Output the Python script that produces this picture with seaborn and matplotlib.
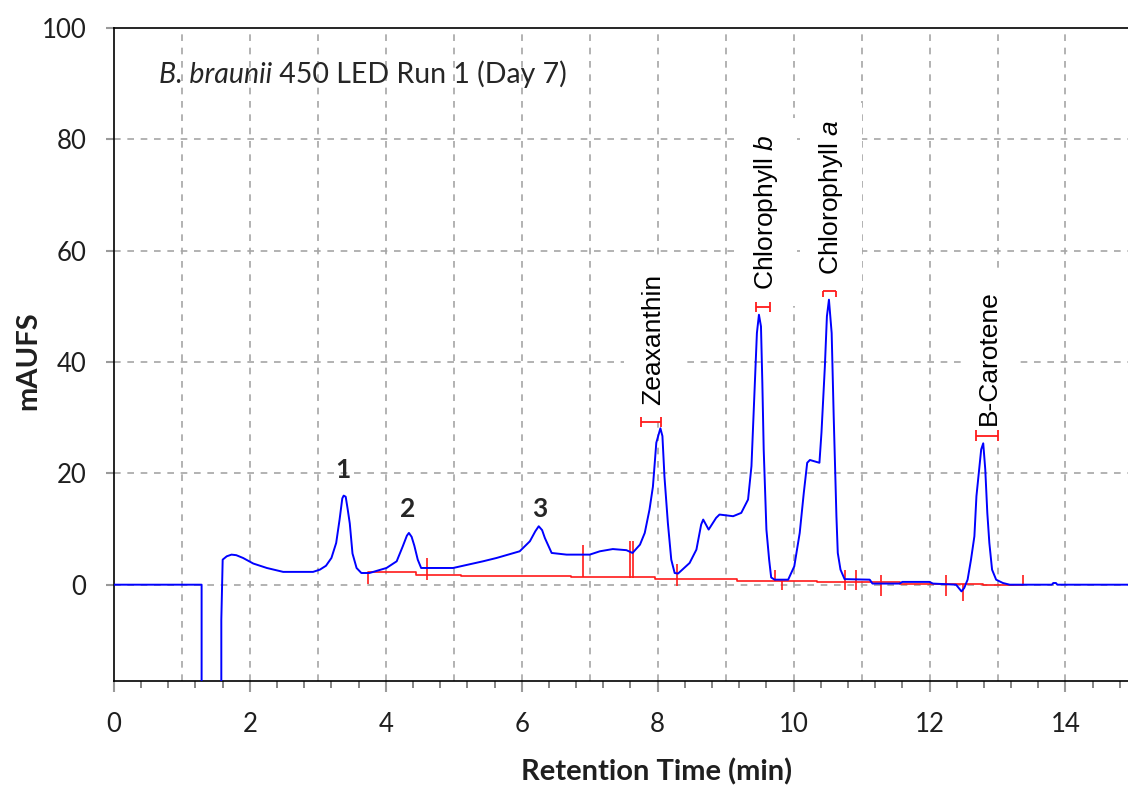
import numpy as np
import pandas as pd
import matplotlib
matplotlib.use("Agg")
import matplotlib.pyplot as plt
import seaborn as sns

# chromatogram trace (retention time in min, signal in mAUFS)
rt = [0.0, 1.29, 1.29, 1.58, 1.58, 1.60, 1.66, 1.73, 1.80, 1.90, 2.05, 2.25, 2.49, 2.93,
      3.03, 3.12, 3.20, 3.27, 3.32, 3.36, 3.38, 3.41, 3.44, 3.47, 3.51, 3.57, 3.64, 3.76,
      4.01, 4.16, 4.25, 4.31, 4.34, 4.38, 4.42, 4.47, 4.52, 4.99, 5.43, 5.63, 5.97, 6.12,
      6.20, 6.25, 6.30, 6.34, 6.44, 6.66, 7.00, 7.15, 7.34, 7.54, 7.63, 7.74, 7.81, 7.88,
      7.93, 7.96, 7.98, 8.04, 8.07, 8.10, 8.15, 8.20, 8.25, 8.30, 8.47, 8.57, 8.64, 8.67,
      8.75, 8.86, 8.91, 9.11, 9.23, 9.33, 9.38, 9.40, 9.43, 9.46, 9.49, 9.52, 9.54, 9.56,
      9.60, 9.64, 9.67, 9.72, 9.92, 10.01, 10.09, 10.15, 10.20, 10.24, 10.38, 10.41, 10.46,
      10.49, 10.52, 10.56, 10.59, 10.63, 10.65, 10.69, 10.75, 11.12, 11.16, 11.56, 11.60,
      12.00, 12.05, 12.39, 12.47, 12.51, 12.56, 12.61, 12.66, 12.69, 12.73, 12.76, 12.79,
      12.82, 12.85, 12.88, 12.92, 12.98, 13.08, 13.18, 13.80, 13.82, 13.86, 13.88, 14.92]
signal = [0.0, 0.0, -40.0, -40.0, -6.3, 4.5, 5.1, 5.4, 5.3, 4.8, 3.8, 3.0, 2.3, 2.3,
          2.7, 3.4, 4.8, 7.5, 11.7, 15.5, 16.0, 15.8, 13.5, 11.0, 5.6, 3.0, 2.1, 2.1,
          3.0, 4.2, 6.9, 8.8, 9.3, 8.6, 7.0, 4.5, 3.0, 3.0, 4.2, 4.8, 6.0, 7.8,
          9.6, 10.5, 9.8, 8.4, 5.7, 5.4, 5.4, 6.0, 6.4, 6.2, 5.7, 7.2, 9.3, 13.5,
          17.6, 22.4, 25.5, 28.1, 26.7, 19.4, 11.1, 4.5, 2.1, 2.0, 3.9, 6.3, 10.8, 11.7,
          9.9, 12.0, 12.6, 12.3, 12.9, 15.3, 21.3, 27.3, 36.3, 45.2, 48.5, 46.4, 36.3, 24.3,
          9.9, 4.5, 1.3, 0.9, 0.9, 3.3, 9.3, 16.5, 21.9, 22.4, 21.9, 27.3, 39.2,
          48.2, 51.2, 45.2, 30.2, 12.3, 5.7, 2.7, 1.0, 0.9, 0.2, 0.2, 0.5,
          0.5, 0.2, 0.0, -1.2, -0.6, 0.9, 4.5, 8.7, 15.9, 20.7, 24.3, 25.4,
          20.7, 12.9, 7.5, 2.7, 0.9, 0.3, 0.0, 0.0, 0.3, 0.3, 0.0, 0.0]

# integration baseline (red)
base_rt = [3.74, 4.45, 4.45, 5.10, 5.10, 6.73, 6.73, 7.96, 7.96, 9.16, 9.16, 10.35, 10.35,
           11.56, 11.56, 12.78, 12.78, 13.38]
base_y = [2.2, 2.2, 1.8, 1.8, 1.6, 1.6, 1.3, 1.3, 1.0, 1.0, 0.7, 0.7, 0.5,
          0.5, 0.2, 0.2, 0.0, 0.0]

# peak start/end markers
mark_rt = [3.74, 4.60, 6.90, 7.59, 7.63, 8.28, 9.72, 9.83, 10.76, 10.92, 11.29, 12.24, 12.49, 13.38]
mark_lo = [0.2, 0.9, 1.3, 1.2, 1.2, -0.2, 0.7, -0.9, -0.9, -0.9, -2.1, -2.1, -3.0, 0.0]
mark_hi = [2.2, 4.8, 7.2, 7.8, 7.8, 3.7, 2.7, 0.7, 2.7, 2.7, 1.8, 1.8, 0.2, 1.8]

# named peaks: label, label x, label bottom, bracket start, bracket end, bracket height
peak_names = ["Zeaxanthin", r"Chlorophyll $\mathit{b}$", r"Chlorophyll $\mathit{a}$", "B-Carotene"]
peak_label_x = [7.93, 9.60, 10.55, 12.88]
peak_label_y = [32.3, 53.0, 55.7, 28.7]
bracket_start = [7.76, 9.45, 10.43, 12.69]
bracket_end = [8.05, 9.66, 10.63, 13.01]
bracket_y = [29.3, 49.8, 52.8, 26.8]

# unnamed peaks
num_labels = ["1", "2", "3"]
num_x = [3.37, 4.32, 6.26]
num_y = [20.6, 13.6, 13.6]

sns.set_style("white")
plt.rcParams["font.family"] = ["Lato", "DejaVu Sans"]
plt.rcParams["mathtext.fontset"] = "custom"
plt.rcParams["mathtext.rm"] = "Liberation Sans"
plt.rcParams["mathtext.it"] = "Liberation Sans:italic"

fig = plt.figure(figsize=(11.28, 7.85), dpi=100)
ax = fig.add_axes([0.101, 0.1325, 0.899, 0.8318])

trace = pd.DataFrame({"rt": rt, "signal": signal})
sns.lineplot(data=trace, x="rt", y="signal", sort=False, estimator=None,
             color="#0000ff", linewidth=1.4, ax=ax, zorder=4)

base = pd.DataFrame({"rt": base_rt, "y": base_y})
sns.lineplot(data=base, x="rt", y="y", sort=False, estimator=None,
             color="#ff1a1a", linewidth=1.2, ax=ax, zorder=3)
ax.vlines(mark_rt, mark_lo, mark_hi, color="#ff1a1a", linewidth=1.2, zorder=3)

# peak width brackets
ax.hlines(bracket_y, bracket_start, bracket_end, color="#ff1a1a", linewidth=1.3, zorder=5)
for i, (a, b, y) in enumerate(zip(bracket_start, bracket_end, bracket_y)):
    if i == 2:
        ax.vlines([a, b], y - 1.1, y, color="#ff1a1a", linewidth=1.3, zorder=5)
    else:
        ax.vlines([a, b], y - 0.9, y + 0.9, color="#ff1a1a", linewidth=1.3, zorder=5)

for name, x, y in zip(peak_names, peak_label_x, peak_label_y):
    ax.text(x, y, name, rotation=90, ha="center", va="bottom", fontsize=19,
            family="Liberation Sans", color="black", zorder=1,
            bbox=dict(facecolor="white", edgecolor="none", pad=12))

for lab, x, y in zip(num_labels, num_x, num_y):
    ax.text(x, y, lab, ha="center", va="center", fontsize=19, fontweight="bold", zorder=5)

t1 = ax.text(0.044, 0.928, "B. braunii", transform=ax.transAxes, fontsize=20.5,
             style="italic", va="center", ha="left")
ax.annotate(" 450 LED Run 1 (Day 7)", xy=(1, 0), xycoords=t1, va="bottom",
            ha="left", fontsize=20.5)

ax.set_xlim(0, 14.92)
ax.set_ylim(-17.3, 100)
ax.set_xticks(np.arange(0, 15, 2))
ax.set_xticks(np.arange(0, 14.9, 0.4), minor=True)
ax.set_yticks(np.arange(0, 101, 20))

ax.set_axisbelow(True)
for gx in range(1, 15):
    ax.axvline(gx, color="#a6a6a6", linestyle=(0, (4, 4)), linewidth=1.2, zorder=0.5)
for gy in range(0, 100, 20):
    ax.axhline(gy, color="#a6a6a6", linestyle=(0, (4, 4)), linewidth=1.2, zorder=0.5)

ax.tick_params(axis="x", which="major", length=8, width=1.5, color="#9a9a9a",
               labelsize=18.5, pad=14, labelcolor="#1f1f1f", direction="out")
ax.tick_params(axis="x", which="minor", length=5, width=1.2, color="#707070", direction="out")
ax.tick_params(axis="y", length=6, width=1.5, color="#9a9a9a", labelsize=18.5, pad=14,
               labelcolor="#1f1f1f", direction="out", left=True)
ax.tick_params(axis="x", bottom=True, which="both")

for side in ["left", "bottom", "top"]:
    ax.spines[side].set_visible(True)
    ax.spines[side].set_color("black")
    ax.spines[side].set_linewidth(1.2)
ax.spines["right"].set_visible(False)

ax.set_xlabel("Retention Time (min)", fontsize=21, fontweight="bold", color="#1f1f1f")
ax.set_ylabel("mAUFS", fontsize=21, fontweight="bold", color="#1f1f1f")
ax.xaxis.set_label_coords(0.535, -0.118)
ax.yaxis.set_label_coords(-0.072, 0.49)

fig.savefig("out.png", dpi=100)
